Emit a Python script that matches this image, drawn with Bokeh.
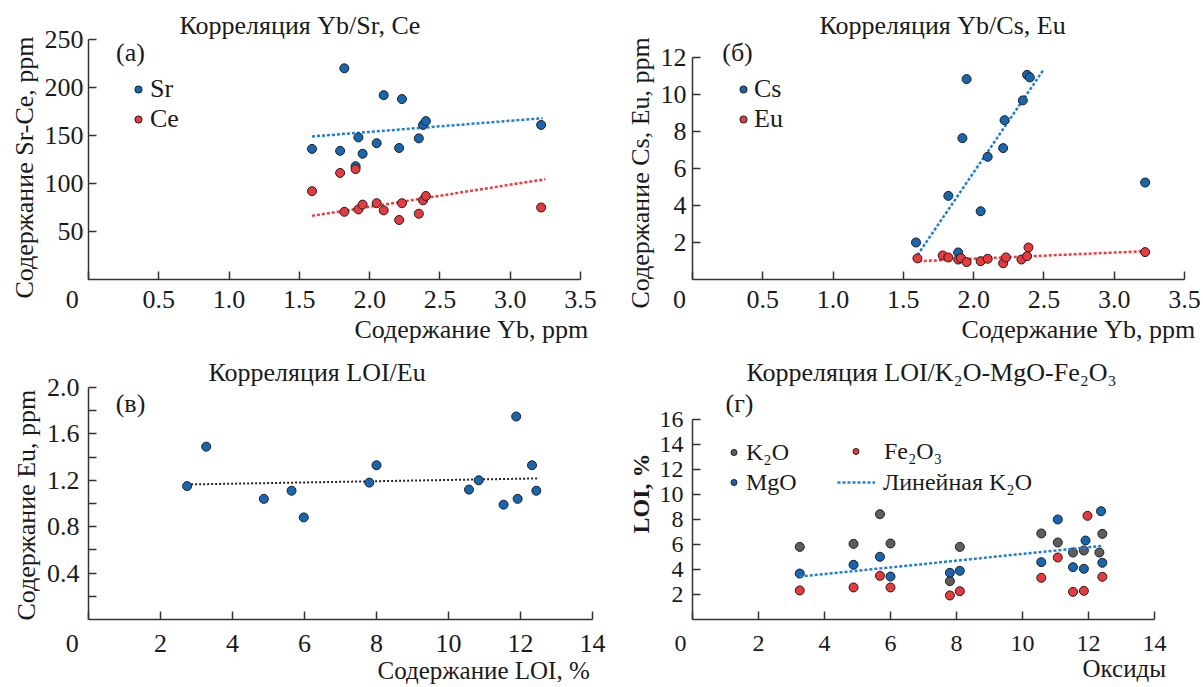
import math
from bokeh.plotting import figure
from bokeh.models import Range1d, FixedTicker, Label, Legend, LegendItem, Title
from bokeh.layouts import row, column
from bokeh.embed import file_html
from bokeh.resources import INLINE

FONT = "Liberation Serif"
TXT = "#1a1a1a"
AX = "#333333"
BLUE = "#1766b2"
RED = "#e8393c"
GRAY = "#5e5e5e"
EDGE = "#1e1e1e"
BLUE_LINE = "#1f7fd6"
RED_LINE = "#ee3b3b"
NB = "\u00a0"

# ---------------- data ----------------
# (а) Yb vs Sr, Ce
yb_a = [1.59, 1.79, 1.82, 1.90, 1.92, 1.95, 2.05, 2.10, 2.21, 2.23, 2.35, 2.38, 2.40, 3.22]
sr_a = [136, 134, 220, 118, 148, 131, 142, 192, 137, 188, 147, 161, 165, 161]
ce_a = [92, 111, 70.5, 115, 73, 78, 79.5, 72, 62, 79.5, 68.5, 82.5, 87, 75]
sr_trend_x = [1.59, 3.23]
sr_trend_y = [149, 168]
ce_trend_x = [1.59, 3.25]
ce_trend_y = [66.3, 104.5]

# (б) Yb vs Cs, Eu
yb_cs = [1.59, 1.82, 1.89, 1.92, 1.95, 2.05, 2.10, 2.21, 2.22, 2.35, 2.38, 2.40, 3.22]
cs_b = [2.0, 4.52, 1.46, 7.64, 10.83, 3.69, 6.63, 7.10, 8.61, 9.68, 11.06, 10.92, 5.24]
yb_eu = [1.60, 1.78, 1.82, 1.89, 1.91, 1.95, 2.05, 2.10, 2.21, 2.23, 2.34, 2.38, 2.39, 3.22]
eu_b = [1.14, 1.30, 1.19, 1.08, 1.15, 0.94, 0.99, 1.12, 0.88, 1.19, 1.08, 1.26, 1.73, 1.48]
cs_trend_x = [1.60, 2.50]
cs_trend_y = [1.32, 11.37]
eu_trend_x = [1.61, 3.22]
eu_trend_y = [0.99, 1.53]

# (в) LOI vs Eu
loi_c = [2.74, 3.27, 4.87, 5.64, 5.98, 7.80, 8.00, 10.57, 10.84, 11.53, 11.88, 11.92, 12.32, 12.44]
eu_c = [1.15, 1.49, 1.04, 1.11, 0.88, 1.18, 1.33, 1.12, 1.20, 0.99, 1.75, 1.04, 1.33, 1.11]
euc_trend_x = [2.74, 12.46]
euc_trend_y = [1.164, 1.216]

# (г) LOI vs K2O, MgO, Fe2O3
k2o_x = [3.25, 4.88, 5.68, 6.00, 7.80, 8.10, 10.57, 11.07, 11.53, 11.86, 12.33, 12.42]
k2o_y = [5.80, 6.04, 8.41, 6.07, 3.06, 5.80, 6.87, 6.15, 5.35, 5.51, 5.35, 6.84]
mgo_x = [3.25, 4.88, 5.68, 6.00, 7.80, 8.10, 10.57, 11.07, 11.53, 11.86, 11.91, 12.38, 12.42]
mgo_y = [3.67, 4.37, 5.01, 3.43, 3.73, 3.89, 4.58, 7.99, 4.18, 4.05, 6.31, 8.65, 4.53]
fe_x = [3.25, 4.88, 5.68, 6.00, 7.80, 8.10, 10.57, 11.07, 11.53, 11.86, 11.97, 12.42]
fe_y = [2.32, 2.56, 3.49, 2.56, 1.92, 2.26, 3.33, 4.95, 2.21, 2.29, 8.28, 3.41]
k2o_trend_x = [3.25, 12.41]
k2o_trend_y = [3.43, 5.88]

# ticks (the lone "0" at each origin is the x-axis label of tick 0)
yb_ticks = [0, 0.5, 1.0, 1.5, 2.0, 2.5, 3.0, 3.5]
yb_tick_labels = ["0", "0.5", "1.0", "1.5", "2.0", "2.5", "3.0", "3.5"]
srce_ticks = [50, 100, 150, 200, 250]
srce_tick_labels = ["50", "100", "150", "200", "250"]
cseu_ticks = [2, 4, 6, 8, 10, 12]
cseu_tick_labels = ["2", "4", "6", "8", "10", "12"]
loi_ticks = [0, 2, 4, 6, 8, 10, 12, 14]
loi_tick_labels = ["0", "2", "4", "6", "8", "10", "12", "14"]
euc_ticks = [0.4, 0.8, 1.2, 1.6, 2.0]
euc_tick_labels = ["0.4", "0.8", "1.2", "1.6", "2.0"]
euc_minor_ticks = [0.2, 0.6, 1.0, 1.4, 1.8]
oxide_ticks = [2, 4, 6, 8, 10, 12, 14, 16]
oxide_tick_labels = ["2", "4", "6", "8", "10", "12", "14", "16"]


def make_fig(w, h, ml, mr, mt, mb, xr, yr):
    p = figure(width=w, height=h, x_range=Range1d(*xr), y_range=Range1d(*yr),
               output_backend="svg", toolbar_location=None, tools="")
    p.min_border_left = ml
    p.min_border_right = mr
    p.min_border_top = mt
    p.min_border_bottom = mb
    p.outline_line_color = None
    p.grid.visible = False
    p.background_fill_color = "white"
    p.border_fill_color = "white"
    return p


def style_axis(ax, ticks, labels, size, standoff, minor=None, zero_pad=0, bounds=None):
    ax.ticker = FixedTicker(ticks=ticks, minor_ticks=minor or [])
    ov = {}
    for t, s in zip(ticks, labels):
        ov[t] = s + NB * zero_pad if t == 0 else s
    ax.major_label_overrides = ov
    if bounds is not None:
        ax.bounds = bounds
    ax.axis_line_color = AX
    ax.axis_line_width = 1.5
    ax.major_tick_line_color = AX
    ax.major_tick_line_width = 1.5
    ax.major_tick_in = 8
    ax.major_tick_out = 0
    ax.minor_tick_line_color = AX if minor else None
    ax.minor_tick_line_width = 1.5
    ax.minor_tick_in = 8
    ax.minor_tick_out = 0
    ax.major_label_text_font = FONT
    ax.major_label_text_font_size = f"{size}px"
    ax.major_label_text_color = TXT
    ax.major_label_standoff = standoff


def side_title(p, side, text, offset, standoff, size=26, valign="bottom", style="normal"):
    p.add_layout(Title(text=text, align="left", offset=offset, standoff=standoff,
                       vertical_align=valign, text_font=FONT, text_font_size=f"{size}px",
                       text_color=TXT, text_font_style=style), side)


def txt(p, fl, fb, px, py, text, size=26):
    p.add_layout(Label(x=px - fl, y=fb - py, x_units="screen", y_units="screen",
                       text=text, text_font=FONT, text_font_size=f"{size}px",
                       text_color=TXT, text_align="center", text_baseline="middle"))


def legend(p, items, vx, vy, gw, standoff, size):
    lg = Legend(items=items, location=(vx, vy), padding=0, margin=0, spacing=0,
                glyph_width=gw, glyph_height=30, label_height=30,
                label_standoff=standoff, label_text_font=FONT,
                label_text_font_size=f"{size}px", label_text_color=TXT,
                border_line_alpha=0, background_fill_alpha=0)
    p.add_layout(lg)


def pts(p, x, y, color):
    return p.scatter(x, y, size=9, fill_color=color, line_color=EDGE, line_width=1)


# ---------------- (а) ----------------
pa = make_fig(606, 345, 88, 26, 39, 66, (0, 3.5), (0, 250))
FL, FB = 88, 279
style_axis(pa.xaxis[0], yb_ticks, yb_tick_labels, 26, 5, zero_pad=5)
style_axis(pa.yaxis[0], srce_ticks, srce_tick_labels, 26, 5)
pa.line(sr_trend_x, sr_trend_y, line_color=BLUE_LINE, line_width=2.5, line_dash="3 2")
pa.line(ce_trend_x, ce_trend_y, line_color=RED_LINE, line_width=2.5, line_dash="3 2")
r_sr = pts(pa, yb_a, sr_a, BLUE)
r_ce = pts(pa, yb_a, ce_a, RED)
legend(pa, [LegendItem(label="Sr", renderers=[r_sr]), LegendItem(label="Ce", renderers=[r_ce])],
       41, 145, 18, 3, 26)
side_title(pa, "above", "Корреляция Yb/Sr, Ce", 91, 0)
side_title(pa, "below", "Содержание Yb, ppm", 266, -4, valign="top")
side_title(pa, "left", "Содержание Sr-Ce, ppm", -19, 5)
txt(pa, FL, FB, 130, 52, "(а)")

# ---------------- (б) ----------------
pb = make_fig(597, 345, 86, 19, 39, 66, (0, 3.5), (0, 12.97))
FL, FB = 692, 279
style_axis(pb.xaxis[0], yb_ticks, yb_tick_labels, 26, 5, zero_pad=4)
style_axis(pb.yaxis[0], cseu_ticks, cseu_tick_labels, 26, 6, bounds=(0, 12))
pb.line(cs_trend_x, cs_trend_y, line_color=BLUE_LINE, line_width=2.5, line_dash="3 2")
pb.line(eu_trend_x, eu_trend_y, line_color=RED_LINE, line_width=2.5, line_dash="3 2")
r_cs = pts(pb, yb_cs, cs_b, BLUE)
r_eu = pts(pb, yb_eu, eu_b, RED)
legend(pb, [LegendItem(label="Cs", renderers=[r_cs]), LegendItem(label="Eu", renderers=[r_eu])],
       42, 145, 18, 2, 26)
side_title(pb, "above", "Корреляция Yb/Cs, Eu", 127, 0)
side_title(pb, "below", "Содержание Yb, ppm", 269, -4, valign="top")
side_title(pb, "left", "Содержание Cs, Eu, ppm", -29, 5)
txt(pb, FL, FB, 737, 52, "(б)")

# ---------------- (в) ----------------
pc = make_fig(606, 342, 88, 14, 42, 68, (0, 14), (0, 2.0))
FL, FB = 88, 619
style_axis(pc.xaxis[0], loi_ticks, loi_tick_labels, 26, 9, zero_pad=5)
style_axis(pc.yaxis[0], euc_ticks, euc_tick_labels, 26, 9, minor=euc_minor_ticks)
pc.line(euc_trend_x, euc_trend_y, line_color="#222222", line_width=2, line_dash="2 2")
pts(pc, loi_c, eu_c, BLUE)
side_title(pc, "above", "Корреляция LOI/Eu", 120, 0, valign="middle")
side_title(pc, "below", "Содержание LOI, %", 289, -8, size=25, valign="top")
side_title(pc, "left", "Содержание Eu, ppm", -1, 5)
txt(pc, FL, FB, 130, 403, "(в)")

# ---------------- (г) ----------------
pd_ = make_fig(597, 342, 86, 49, 42, 68, (0, 14), (0, 18.53))
FL, FB = 692, 619
style_axis(pd_.xaxis[0], loi_ticks, loi_tick_labels, 24, 10, zero_pad=4)
style_axis(pd_.yaxis[0], oxide_ticks, oxide_tick_labels, 24, 9, bounds=(0, 16))
r_k = pts(pd_, k2o_x, k2o_y, GRAY)
r_m = pts(pd_, mgo_x, mgo_y, BLUE)
r_f = pts(pd_, fe_x, fe_y, RED)
r_t = pd_.line(k2o_trend_x, k2o_trend_y, line_color=BLUE_LINE, line_width=2.5, line_dash="3 2")
legend(pd_, [LegendItem(label="K\u2082O", renderers=[r_k]), LegendItem(label="MgO", renderers=[r_m])],
       34, 122, 15, 5, 24)
legend(pd_, [LegendItem(label="Fe\u2082O\u2083", renderers=[r_f])],
       156, 153, 15, 21, 24)
legend(pd_, [LegendItem(label="Линейная K\u2082O", renderers=[r_t])],
       145, 122, 38, 8, 24)
side_title(pd_, "above", "Корреляция LOI/K\u2082O-MgO-Fe\u2082O\u2083", 54, 0, valign="middle")
side_title(pd_, "below", "Оксиды", 390, -8, size=25, valign="top")
side_title(pd_, "left", "LOI, %", 86, 5, size=24, style="bold")
txt(pd_, FL, FB, 739, 403, "(г)")

layout = column(row(pa, pb), row(pc, pd_))
open("out.html", "w").write(file_html(layout, INLINE))
